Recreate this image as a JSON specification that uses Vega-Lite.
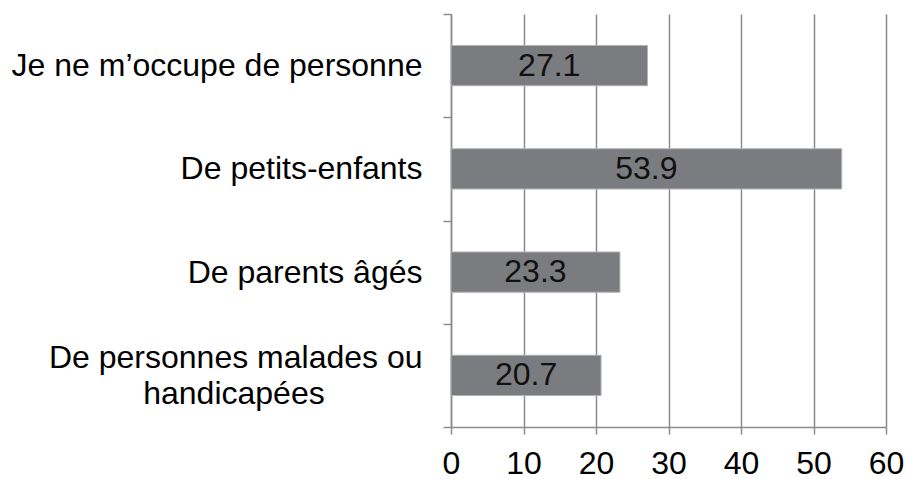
{
  "$schema": "https://vega.github.io/schema/vega-lite/v6.json",
  "width": 435,
  "height": 413,
  "autosize": "none",
  "padding": {"left": 451, "top": 14, "right": 20, "bottom": 52},
  "background": "white",
  "config": {"view": {"stroke": null}, "font": "Liberation Sans"},
  "data": {
    "values": [
      {"cat": "Je ne m’occupe de personne", "v": 27.1},
      {"cat": "De petits-enfants", "v": 53.9},
      {"cat": "De parents âgés", "v": 23.3},
      {"cat": "De personnes malades ou handicapées", "v": 20.7}
    ]
  },
  "encoding": {
    "y": {
      "field": "cat",
      "type": "nominal",
      "sort": null,
      "scale": {"paddingInner": 0, "paddingOuter": 0},
      "axis": {
        "title": null,
        "grid": false,
        "domainColor": "#8c8c8c",
        "domainWidth": 1.5,
        "tickBand": "extent",
        "tickColor": "#8c8c8c",
        "tickWidth": 1.5,
        "tickSize": 8,
        "labelFont": "Liberation Sans",
        "labelFontSize": 32,
        "labelColor": "#000000",
        "labelPadding": 21,
        "labelLimit": 500,
        "labelLineHeight": 36,
        "labelOffset": {"condition": {"test": "datum.value == 'De personnes malades ou handicapées'", "value": -18}, "value": 0},
        "labelExpr": "datum.value == 'De personnes malades ou handicapées' ? ['De personnes malades ou', 'handicapées\u00a0\u00a0\u00a0\u00a0\u00a0\u00a0\u00a0\u00a0\u00a0\u00a0\u00a0\u200b'] : datum.value"
      }
    }
  },
  "layer": [
    {
      "mark": {"type": "bar", "color": "#7b7c80", "stroke": "#b4b4b4", "strokeWidth": 1, "height": {"band": 0.39}},
      "encoding": {
        "x": {
          "field": "v",
          "type": "quantitative",
          "scale": {"domain": [0, 60], "nice": false},
          "axis": {
            "title": null,
            "values": [0, 10, 20, 30, 40, 50, 60],
            "grid": true,
            "gridColor": "#8c8c8c",
            "gridWidth": 1.5,
            "domainColor": "#8c8c8c",
            "domainWidth": 1.5,
            "tickColor": "#8c8c8c",
            "tickWidth": 1.5,
            "tickSize": 7,
            "labelFont": "Liberation Sans",
            "labelFontSize": 32,
            "labelColor": "#000000",
            "labelPadding": 14,
            "labelFlush": false
          }
        }
      }
    },
    {
      "mark": {"type": "text", "fontSize": 32, "color": "#111111", "font": "Liberation Sans", "align": "center", "baseline": "middle", "dx": {"expr": "-scale('x', datum.v)/2"}},
      "encoding": {
        "x": {"field": "v", "type": "quantitative"},
        "text": {"field": "v", "type": "quantitative", "format": ".1f"}
      }
    }
  ]
}
